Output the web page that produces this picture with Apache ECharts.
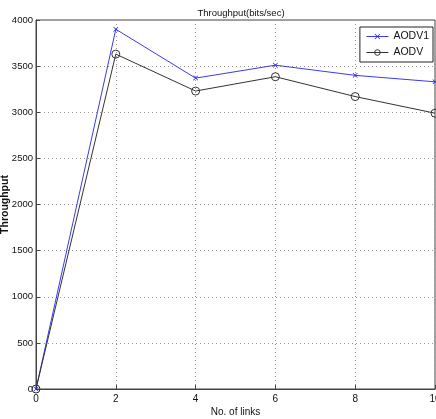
<!DOCTYPE html>
<html lang="en">
<head>
    <meta charset="utf-8">
    <title>Throughput</title>
    <script src="https://cdn.jsdelivr.net/npm/echarts@6/dist/echarts.min.js"></script>
    <style>
        html, body { margin: 0; padding: 0; background: #fff; }
        #main { width: 436px; height: 419px; }
    </style>
</head>
<body>
<div id="main"></div>
<script type="text/javascript">
    // data
    var links = [0, 2, 4, 6, 8, 10];
    var aodv1 = [0, 3900, 3370, 3510, 3400, 3330];
    var aodv  = [0, 3630, 3230, 3385, 3170, 2990];

    var pairs = function (xs, ys) {
        return xs.map(function (x, i) { return [x, ys[i]]; });
    };

    var crossPath = 'path://M0,1L1,0L5,4L9,0L10,1L6,5L10,9L9,10L5,6L1,10L0,9L4,5Z';
    var font = 'Liberation Sans';

    var myChart = echarts.init(document.getElementById('main'));

    myChart.setOption({
        animation: false,
        title: {
            text: 'Throughput(bits/sec)',
            left: 236,
            textAlign: 'center',
            top: 3,
            textStyle: { fontFamily: font, fontSize: 9.5, fontWeight: 'normal', color: '#111' }
        },
        legend: {
            orient: 'vertical',
            right: 3,
            top: 27,
            padding: [4, 4, 4, 6],
            itemGap: 5,
            itemWidth: 22,
            itemHeight: 7,
            borderColor: '#222',
            borderWidth: 1,
            backgroundColor: '#fff',
            lineStyle: { width: 1 },
            itemStyle: { borderWidth: 1 },
            textStyle: { fontFamily: font, fontSize: 10.5, color: '#111' },
            data: ['AODV1', 'AODV']
        },
        grid: {
            left: 36, right: 1, top: 20, bottom: 30,
            outerBoundsMode: 'none',
            containLabel: false,
            show: true, borderColor: '#444', borderWidth: 1
        },
        xAxis: {
            type: 'value',
            min: 0, max: 10, interval: 2,
            name: 'No. of links',
            nameLocation: 'middle',
            nameGap: 18,
            nameMoveOverlap: false,
            nameTextStyle: { fontFamily: font, fontSize: 10, color: '#111' },
            axisLine: { lineStyle: { color: '#444' } },
            axisTick: { inside: true, length: 4, lineStyle: { color: '#444' } },
            axisLabel: { fontFamily: font, fontSize: 10, color: '#111', margin: 5 },
            splitLine: { show: true, lineStyle: { color: '#999', type: [1, 3] } }
        },
        yAxis: {
            type: 'value',
            min: 0, max: 4000, interval: 500,
            name: 'Throughput',
            nameLocation: 'middle',
            nameGap: 25,
            nameMoveOverlap: false,
            nameTextStyle: { fontFamily: font, fontSize: 10.5, fontWeight: 'bold', color: '#111' },
            axisLine: { show: true, lineStyle: { color: '#444' } },
            axisTick: { show: true, inside: true, length: 4, lineStyle: { color: '#444' } },
            axisLabel: {
                fontFamily: font, fontSize: 9.5, color: '#111', margin: 3,
                formatter: function (v) { return String(v); }
            },
            splitLine: { show: true, lineStyle: { color: '#999', type: [1, 3] } }
        },
        series: [{
            name: 'AODV1',
            type: 'line',
            data: pairs(links, aodv1),
            symbol: crossPath,
            symbolSize: 5,
            itemStyle: { color: '#2a2ae6' },
            lineStyle: { color: '#3a3aee', width: 1 }
        }, {
            name: 'AODV',
            type: 'line',
            data: pairs(links, aodv),
            symbol: 'circle',
            symbolSize: 8,
            itemStyle: { color: 'rgba(255,255,255,0)', borderColor: '#333', borderWidth: 1 },
            lineStyle: { color: '#333', width: 1 }
        }]
    });
</script>
</body>
</html>
